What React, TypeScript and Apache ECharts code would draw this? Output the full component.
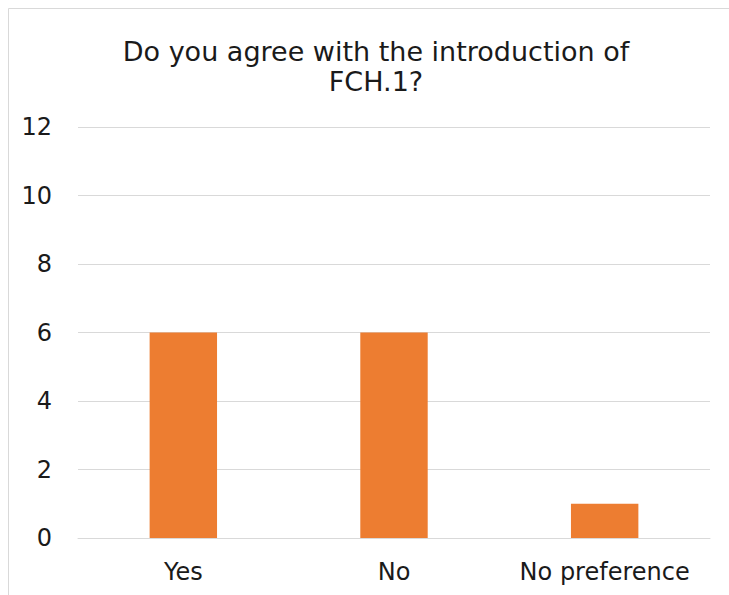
import React, { useEffect, useRef } from "react";
import * as echarts from "echarts";

const categories = ["Yes", "No", "No preference"];
const values = [6, 6, 1];
const titleLines = ["Do you agree with the introduction of", "FCH.1?"];

export default function App() {
  const ref = useRef<HTMLDivElement>(null);
  useEffect(() => {
    document.body.style.margin = "0";
    const chart = echarts.init(ref.current!, null, { renderer: "svg" });
    const font = "DejaVu Sans";
    chart.setOption({
      animation: false,
      backgroundColor: "#ffffff",
      title: {
        text: titleLines.join("\n"),
        left: 371,
        top: 31,
        textAlign: "center",
        textStyle: {
          fontFamily: font,
          fontSize: 27,
          fontWeight: "normal",
          color: "#1a1a1a",
          lineHeight: 30,
        },
      },
      graphic: [
        {
          type: "polyline",
          shape: { points: [[8.5, 700], [8.5, 8.5], [800, 8.5]] },
          style: { fill: "none", stroke: "#d9d9d9", lineWidth: 1 },
          silent: true,
        },
      ],
      grid: { left: 78, right: 19, top: 127, bottom: 57 },
      xAxis: {
        type: "category",
        data: categories,
        axisLine: { show: true, lineStyle: { color: "#d9d9d9", width: 1 } },
        axisTick: { show: false },
        axisLabel: {
          interval: 0,
          fontFamily: font,
          fontSize: 24,
          color: "#1a1a1a",
          margin: 22,
        },
      },
      yAxis: {
        type: "value",
        min: 0,
        max: 12,
        interval: 2,
        axisLine: { show: false },
        axisTick: { show: false },
        splitLine: { lineStyle: { color: "#d9d9d9", width: 1 } },
        axisLabel: {
          fontFamily: font,
          fontSize: 24,
          color: "#1a1a1a",
          margin: 26,
        },
      },
      series: [
        {
          type: "bar",
          data: values,
          barWidth: "32%",
          itemStyle: { color: "#ED7D31" },
        },
      ],
    });
    return () => chart.dispose();
  }, []);
  return <div ref={ref} style={{ width: 729, height: 595 }} />;
}
